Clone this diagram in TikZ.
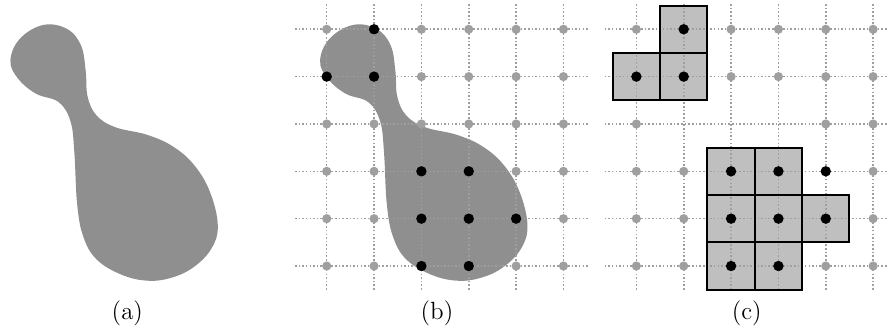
\documentclass[tikz,border=0pt]{standalone}
\usetikzlibrary{positioning}
\newcommand{\blobshape}{plot[smooth cycle, tension=0.65] coordinates {
  (0.55,5.09) (1.05,5.01) (1.35,4.66) (1.45,4.12) (1.49,3.58)
  (1.68,3.18) (2.08,2.93) (2.75,2.77) (3.30,2.52) (3.75,2.12)
  (4.08,1.55) (4.24,0.85) (4.10,0.36) (3.72,-0.03) (3.25,-0.25)
  (2.75,-0.31) (2.20,-0.18) (1.68,0.14) (1.40,0.62) (1.27,1.30)
  (1.21,2.40) (1.13,3.05) (0.88,3.46) (0.40,3.64) (0.02,3.96)
  (-0.14,4.34) (0.06,4.80)}}

\begin{document}
\begin{tikzpicture}[
  x = 0.8cm, y = 0.8cm,
  blob/.style     = {fill=black!44},
  gridline/.style = {densely dotted, gray!75, line width=0.75pt},
  pt/.style       = {circle, fill=gray!75, inner sep=0pt, minimum size=4.4pt},
  hit/.style      = {circle, fill=black, inner sep=0pt, minimum size=5pt},
  cellfill/.style = {fill=black!25},
  celledge/.style = {draw, line width=1pt},
  lab/.style      = {font=\large},
]
  \useasboundingbox (-6.90,-1.309) rectangle (11.875,5.618);

  % (a)
  \begin{scope}[shift={(-6.54,0)}]
    \fill[blob] \blobshape;
    \node[lab] (la) at (2.33,-0.99) {(a)};
  \end{scope}

  % (b)
  \fill[blob] \blobshape;
  \foreach \i in {0,...,5} {
    \draw[gridline] (\i,-0.5) -- (\i,5.53);
    \draw[gridline] (-0.67,\i) -- (5.55,\i);
  }
  \foreach \i in {0,...,5}
    \foreach \j in {0,...,5}
      \node[pt] (b-\i-\j) at (\i,\j) {};
  \foreach \i/\j in {1/5,0/4,1/4,2/2,3/2,2/1,3/1,4/1,2/0,3/0}
    \node[hit] (bh-\i-\j) at (\i,\j) {};
  \node[lab] (lb) at (2.33,-0.99) {(b)};

  % (c)
  \begin{scope}[shift={(6.54,0)}]
    \foreach \i/\j in {1/5,0/4,1/4,2/2,3/2,2/1,3/1,4/1,2/0,3/0}
      \fill[cellfill] (\i-0.5,\j-0.5) rectangle +(1,1);
    \foreach \i in {0,...,5} {
      \draw[gridline] (\i,-0.5) -- (\i,5.53);
      \draw[gridline] (-0.67,\i) -- (5.55,\i);
    }
    \foreach \i/\j in {1/5,0/4,1/4,2/2,3/2,2/1,3/1,4/1,2/0,3/0}
      \draw[celledge] (\i-0.5,\j-0.5) rectangle +(1,1);
    \foreach \i/\j in {0/5,2/5,3/5,4/5,5/5,2/4,3/4,4/4,5/4,0/3,4/3,5/3,
                       0/2,1/2,5/2,0/1,1/1,5/1,0/0,1/0,4/0,5/0}
      \node[pt] (c-\i-\j) at (\i,\j) {};
    \foreach \i/\j in {1/5,0/4,1/4,2/2,3/2,4/2,2/1,3/1,4/1,2/0,3/0}
      \node[hit] (ch-\i-\j) at (\i,\j) {};
    \node[lab] (lc) at (2.33,-0.99) {(c)};
  \end{scope}
\end{tikzpicture}
\end{document}
